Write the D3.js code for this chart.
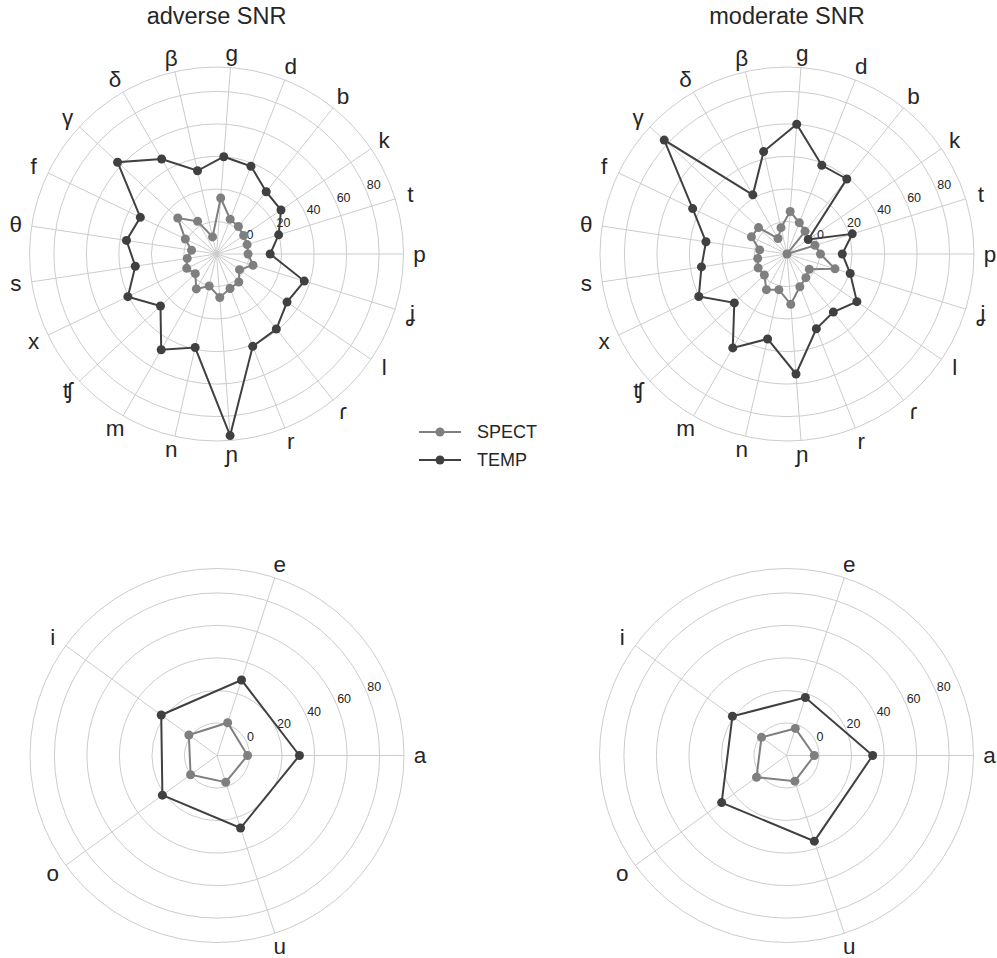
<!DOCTYPE html>
<html lang="en"><head>
<meta charset="utf-8">
<title>SNR polar</title>
<script src="https://cdn.jsdelivr.net/npm/d3@7"></script>
<style>
body { margin: 0; background: #fff; }
text { font-family: "Liberation Sans", Arial, "DejaVu Sans", sans-serif; fill: #262626; }
</style>
</head>
<body>
<script type="text/javascript">

var width = 997;
var height = 958;

// categories
var consonants = ["p", "t", "k", "b", "d", "g", "β", "δ", "γ", "f", "θ", "s", "x", "ʧ", "m", "n", "ɲ", "r", "ɾ", "l", "ʝ"];
var vowels = ["a", "e", "i", "o", "u"];

// values
var adverseTemp = [13, 20, 28, 29, 38, 40, 32.5, 47.5, 63, 32, 36, 30.5, 40.5, 27, 48, 39, 92, 41, 39, 32.5, 36.5];
var adverseSpect = [-0.6, -0.3, 0.2, 1.6, 3, 14.5, -9.2, 3.2, 12.5, 1.3, -4.5, -1.8, 0.3, -2.2, 4.8, 0.2, 6.8, 2.8, 2, -2.9, 3.5];
var moderateTemp = [14, 22, -4.2, 39, 38.6, 60, 44.6, 22, 83, 44.4, 30.4, 33.2, 40.2, 24.2, 46.7, 33.6, 54, 29.4, 25.7, 32, 20.7];
var moderateSpect = [0.6, -2, -20, -2.2, 0.7, 6.2, -3.4, -9, 3.9, 4.3, -3, -1.8, -0.3, -1, 5.3, 2.5, 11, 1.6, -1.4, -3.4, 10.9];

var adverseVowTemp = [30.7, 28.8, 22.4, 21.5, 26.9];
var adverseVowSpect = [-1.2, 1.2, 1.4, 0.1, -2.7];
var moderateVowTemp = [33, 17.5, 21.1, 29.3, 35.4];
var moderateVowSpect = [-2.9, -2.5, -1, 2.8, -3.4];

var rTicks = [0, 20, 40, 60, 80];
var rMin = -20, rMax = 95;

var spectColor = "#7f7f7f";
var tempColor = "#404040";

var svg = d3.select("body").append("svg")
            .attr("width", width)
            .attr("height", height);

var r = d3.scaleLinear().domain([rMin, rMax]).range([0, 187]);

function drawPolar(cx, cy, cats, spect, temp, title) {
    var g = svg.append("g").attr("transform", "translate(" + cx + "," + cy + ")");
    var ang = d3.scaleLinear().domain([0, cats.length]).range([0, 2 * Math.PI]);

    // spokes
    g.selectAll(".spoke").data(cats).enter().append("line")
        .attr("x1", 0).attr("y1", 0)
        .attr("x2", (d, i) => r(rMax) * Math.cos(ang(i)))
        .attr("y2", (d, i) => -r(rMax) * Math.sin(ang(i)))
        .attr("stroke", "#cccccc").attr("stroke-width", 1);

    // rings + outer edge
    g.selectAll(".ring").data(rTicks.concat([rMax])).enter().append("circle")
        .attr("r", d => r(d))
        .attr("fill", "none")
        .attr("stroke", "#cccccc").attr("stroke-width", 1);

    // radial tick labels at 22.5 deg
    var a = 22.5 * Math.PI / 180;
    g.selectAll(".rtick").data(rTicks).enter().append("text")
        .attr("x", d => r(d) * Math.cos(a))
        .attr("y", d => -r(d) * Math.sin(a) - 2.5)
        .style("font-size", "12.5px")
        .text(d => d);

    // category labels
    g.selectAll(".cat").data(cats).enter().append("text")
        .attr("x", (d, i) => 203 * Math.cos(ang(i)))
        .attr("y", (d, i) => -201 * Math.sin(ang(i)))
        .attr("text-anchor", "middle")
        .attr("dominant-baseline", "central")
        .style("font-size", "22.5px")
        .text(d => d);

    var line = d3.lineRadial()
        .angle((d, i) => Math.PI / 2 - ang(i))
        .radius(d => r(d))
        .curve(d3.curveLinearClosed);

    [[spect, spectColor], [temp, tempColor]].forEach(s => {
        g.append("path")
            .attr("d", line(s[0]))
            .attr("fill", "none")
            .attr("stroke", s[1])
            .attr("stroke-width", 2);
        g.selectAll(null).data(s[0]).enter().append("circle")
            .attr("cx", (d, i) => r(d) * Math.cos(ang(i)))
            .attr("cy", (d, i) => -r(d) * Math.sin(ang(i)))
            .attr("r", 4.5)
            .attr("fill", s[1]);
    });

    if (title) {
        svg.append("text")
            .attr("x", cx).attr("y", 24)
            .attr("text-anchor", "middle")
            .style("font-size", "23.5px")
            .text(title);
    }
}

drawPolar(216.5, 254, consonants, adverseSpect, adverseTemp, "adverse SNR");
drawPolar(787, 254, consonants, moderateSpect, moderateTemp, "moderate SNR");
drawPolar(217, 755.5, vowels, adverseVowSpect, adverseVowTemp, null);
drawPolar(786.5, 755.5, vowels, moderateVowSpect, moderateVowTemp, null);

// legend
var legend = svg.append("g");
[["SPECT", spectColor, 432], ["TEMP", tempColor, 460]].forEach(l => {
    legend.append("line")
        .attr("x1", 419).attr("x2", 461)
        .attr("y1", l[2]).attr("y2", l[2])
        .attr("stroke", l[1]).attr("stroke-width", 2);
    legend.append("circle")
        .attr("cx", 440).attr("cy", l[2]).attr("r", 4.5)
        .attr("fill", l[1]);
    legend.append("text")
        .attr("x", 477).attr("y", l[2])
        .attr("dominant-baseline", "central")
        .style("font-size", "18px")
        .text(l[0]);
});

</script>
</body></html>
